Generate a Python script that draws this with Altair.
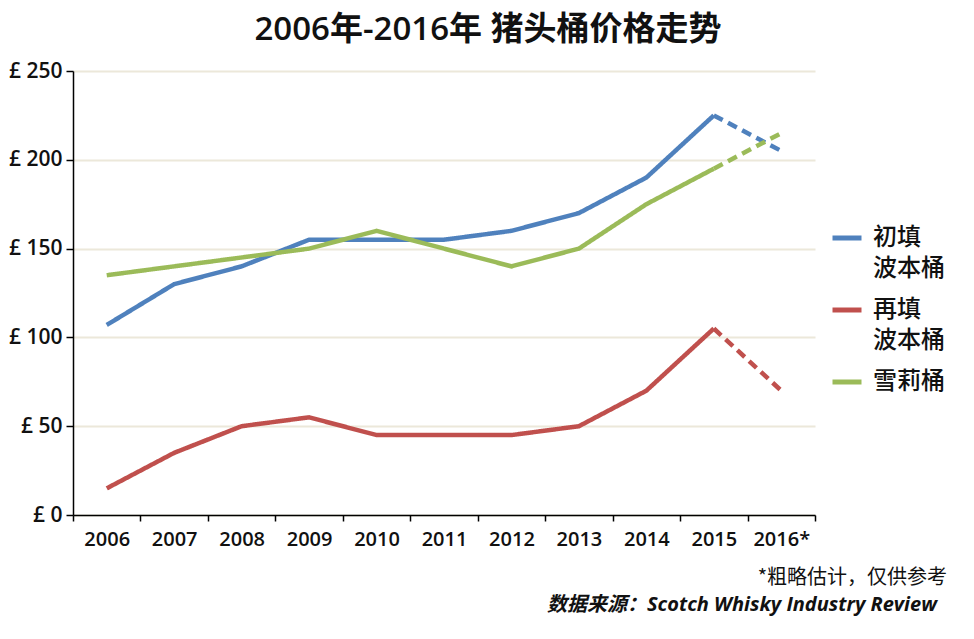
import altair as alt
import pandas as pd

years = ["2006", "2007", "2008", "2009", "2010", "2011", "2012", "2013", "2014", "2015", "2016*"]
series_names = ["初填 波本桶", "再填 波本桶", "雪莉桶"]
first_fill = [107, 130, 140, 155, 155, 155, 160, 170, 190, 225, 205]
refill = [15, 35, 50, 55, 45, 45, 45, 50, 70, 105, 70]
sherry = [135, 140, 145, 150, 160, 150, 140, 150, 175, 195, 215]
colors = ["#4F81BD", "#C0504D", "#9BBB59"]
parts = ["实际", "估计"]
title_text = "2006年-2016年 猪头桶价格走势"
note_text = "*粗略估计，仅供参考"
source_text = "数据来源：Scotch Whisky Industry Review"

rows = []
for name, vals in zip(series_names, [first_fill, refill, sherry]):
    for i in range(len(years) - 1):
        rows.append({"year": years[i], "price": vals[i], "series": name, "part": parts[0]})
    for i in range(len(years) - 2, len(years)):
        rows.append({"year": years[i], "price": vals[i], "series": name, "part": parts[1]})
df = pd.DataFrame(rows)

FONT = "Open Sans, Noto Sans CJK SC, sans-serif"
CJK = "Noto Sans CJK SC, sans-serif"

lines = alt.Chart(df).mark_line(strokeWidth=4.5, strokeJoin="miter").encode(
    x=alt.X(
        "year:O",
        sort=years,
        bandPosition=0.5,
        scale=alt.Scale(type="band", paddingInner=0, paddingOuter=0),
        axis=alt.Axis(
            title=None, labelAngle=0, tickBand="extent", grid=False,
            domainColor="#000", domainWidth=1.5, tickColor="#000", tickWidth=1.5,
            tickSize=6, labelPadding=8, labelFont=FONT, labelFontSize=20,
            labelFontWeight=600, labelColor="#111",
        ),
    ),
    y=alt.Y(
        "price:Q",
        scale=alt.Scale(domain=[0, 250], nice=False),
        axis=alt.Axis(
            title=None, values=[0, 50, 100, 150, 200, 250],
            labelExpr="'£ ' + datum.value",
            grid=True, gridColor="#ECE8DA", gridWidth=2,
            domainColor="#000", domainWidth=1.5, tickColor="#000", tickWidth=1.5,
            tickSize=7, labelPadding=4, labelFont=FONT, labelFontSize=21,
            labelFontWeight=600, labelColor="#111",
        ),
    ),
    color=alt.Color(
        "series:N",
        sort=series_names,
        scale=alt.Scale(domain=series_names, range=colors),
        legend=alt.Legend(
            title=None, orient="none", legendX=757, legendY=150,
            symbolType="stroke", symbolSize=841, symbolStrokeWidth=5,
            labelExpr="split(datum.label, ' ')",
            labelFont=CJK, labelFontSize=24, labelFontWeight=500,
            labelColor="#111", labelOffset=9, rowPadding=12, padding=0,
            labelLimit=200,
        ),
    ),
    strokeDash=alt.StrokeDash(
        "part:N",
        scale=alt.Scale(domain=parts, range=[[1, 0], [10, 6]]),
        legend=None,
    ),
)

note1 = alt.Chart(pd.DataFrame({"t": [note_text]})).mark_text(
    align="right", baseline="middle", font=CJK, fontSize=20, color="#111"
).encode(text="t:N", x=alt.value(874), y=alt.value(507))

note2 = alt.Chart(pd.DataFrame({"t": [source_text]})).mark_text(
    align="left", baseline="middle", font=FONT, fontSize=20, fontWeight="bold",
    fontStyle="italic", color="#111"
).encode(text="t:N", x=alt.value(474), y=alt.value(534))

chart = alt.layer(lines, note1, note2).properties(
    width=742,
    height=444,
    autosize=alt.AutoSizeParams(type="none"),
    padding={"left": 65, "top": 63, "right": 151, "bottom": 116},
    title=alt.Title(
        text=title_text, font=FONT, fontSize=33, fontWeight=600,
        color="#111", anchor="middle", dx=44, offset=13,
    ),
).configure(
    style={"guide-label": {"lineHeight": 31}},
    view={"stroke": None},
    background="white",
)

chart.save("out.html", embed_options={"renderer": "svg", "actions": False})
